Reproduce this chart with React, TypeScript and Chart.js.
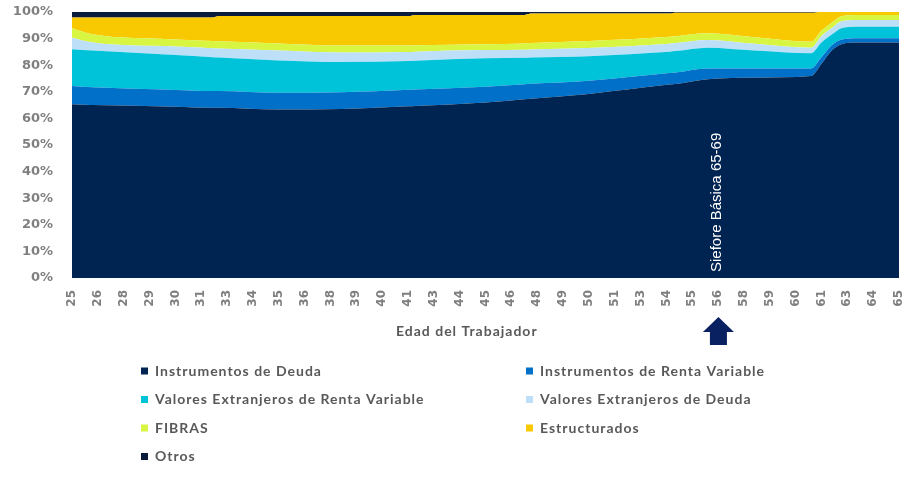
import React, { useEffect, useRef } from "react";
import { Chart, registerables } from "chart.js";
Chart.register(...registerables);

// Edad del trabajador (años)
const ages = [25, 26, 30, 31.8, 32.1, 35, 38, 41.3, 41.6, 45, 46.9, 47.2, 50, 53.9, 54.2, 55.75, 58, 60.75, 61.25, 61.75, 62.25, 63, 65];

// Composición (% del portafolio)
const instrumentosDeuda = [65.3, 65.0, 64.4, 64.0, 64.0, 63.3, 63.5, 64.6, 64.7, 66.0, 67.2, 67.4, 69.2, 72.7, 72.9, 74.7, 75.3, 75.9, 80.5, 85.5, 88.0, 88.5, 88.5];
const instrumentosRentaVariable = [6.9, 6.7, 6.3, 6.3, 6.3, 6.3, 6.3, 6.2, 6.2, 5.9, 5.6, 5.6, 5.0, 4.4, 4.4, 4.1, 3.5, 2.9, 2.5, 2.0, 1.7, 1.6, 1.6];
const extranjerosRentaVariable = [13.8, 13.8, 13.1, 12.7, 12.6, 12.2, 11.4, 10.8, 10.8, 10.7, 10.0, 9.9, 9.2, 8.0, 8.0, 7.8, 6.7, 5.7, 5.5, 4.0, 4.3, 4.4, 4.4];
const extranjerosDeuda = [4.3, 3.0, 3.2, 3.4, 3.4, 3.7, 3.6, 3.4, 3.4, 3.1, 3.0, 3.0, 3.1, 3.0, 3.0, 2.9, 2.6, 2.1, 2.5, 2.5, 2.6, 2.5, 2.5];
const fibras = [3.6, 3.1, 2.7, 2.7, 2.7, 2.7, 2.6, 2.4, 2.4, 2.2, 2.4, 2.4, 2.6, 2.6, 2.6, 2.5, 2.4, 2.2, 2.0, 2.0, 1.9, 1.9, 1.9];
const estructurados = [4.0, 6.3, 8.2, 8.8, 9.5, 10.3, 11.1, 11.1, 11.4, 11.0, 10.7, 11.1, 10.3, 8.7, 8.8, 7.7, 9.2, 10.9, 7.0, 4.0, 1.5, 1.1, 1.1];
const otros = [2.1, 2.1, 2.1, 2.1, 1.5, 1.5, 1.5, 1.5, 1.1, 1.1, 1.1, 0.6, 0.6, 0.6, 0.3, 0.3, 0.3, 0.3, 0, 0, 0, 0, 0];

const seriesLabels = [
  "Instrumentos de Deuda",
  "Instrumentos de Renta Variable",
  "Valores Extranjeros de Renta Variable",
  "Valores Extranjeros de Deuda",
  "FIBRAS",
  "Estructurados",
  "Otros",
];
const seriesValues = [
  instrumentosDeuda,
  instrumentosRentaVariable,
  extranjerosRentaVariable,
  extranjerosDeuda,
  fibras,
  estructurados,
  otros,
];
const seriesColors = ["#002451", "#0070C9", "#00C3D9", "#BDE0F8", "#D8F542", "#F8C800", "#0B1B3B"];

const xAxisTitle = "Edad del Trabajador";
const markerAge = 56;
const markerLabel = "Siefore Básica 65-69";

const overlay = {
  id: "overlay",
  afterDraw(chart: any) {
    const ctx = chart.ctx;
    const xs = chart.scales.x;
    const area = chart.chartArea;
    const px = xs.getPixelForValue(markerAge);

    // rotated label inside the chart
    ctx.save();
    ctx.translate(px + 4, area.bottom - 6);
    ctx.rotate(-Math.PI / 2);
    ctx.font = '15px "Liberation Sans"';
    ctx.fillStyle = "#ffffff";
    ctx.textAlign = "left";
    ctx.textBaseline = "middle";
    ctx.fillText(markerLabel, 0, 0);
    ctx.restore();

    // arrow
    const ax = px + 5.5;
    ctx.save();
    ctx.fillStyle = "#0A2161";
    ctx.beginPath();
    ctx.moveTo(ax, 317);
    ctx.lineTo(ax + 15.5, 332);
    ctx.lineTo(ax + 8.5, 332);
    ctx.lineTo(ax + 8.5, 345);
    ctx.lineTo(ax - 8.5, 345);
    ctx.lineTo(ax - 8.5, 332);
    ctx.lineTo(ax - 15.5, 332);
    ctx.closePath();
    ctx.fill();
    ctx.restore();

    // axis title
    ctx.save();
    ctx.font = 'bold 14px "Lato"';
    (ctx as any).letterSpacing = "1px";
    ctx.fillStyle = "#595959";
    ctx.textAlign = "left";
    ctx.textBaseline = "middle";
    ctx.fillText(xAxisTitle, 396, 331);
    ctx.restore();

    // legend, two columns
    ctx.save();
    ctx.font = 'bold 14px "Lato"';
    (ctx as any).letterSpacing = "1px";
    ctx.textAlign = "left";
    ctx.textBaseline = "middle";
    chart.data.datasets.forEach((ds: any, i: number) => {
      const col = i % 2;
      const row = Math.floor(i / 2);
      const x = col === 0 ? 141 : 526;
      const y = 371 + row * 28.5;
      ctx.fillStyle = ds.backgroundColor;
      ctx.fillRect(x, y - 3.5, 7, 7);
      ctx.fillStyle = "#595959";
      ctx.fillText(ds.label, x + 14, y);
    });
    ctx.restore();
  },
};

export default function App() {
  const ref = useRef<HTMLCanvasElement>(null);
  useEffect(() => {
    if (!ref.current) return;
    const chart = new Chart(ref.current, {
      type: "line",
      data: {
        datasets: seriesLabels.map((label, i) => ({
          label,
          data: ages.map((a, j) => ({ x: a, y: seriesValues[i][j] })),
          backgroundColor: seriesColors[i],
          borderColor: seriesColors[i],
          borderWidth: 0,
          pointRadius: 0,
          fill: i === 0 ? "origin" : "-1",
          cubicInterpolationMode: "monotone",
        })),
      },
      options: {
        responsive: false,
        animation: false,
        layout: { padding: { top: 12, right: 16, left: 0, bottom: 0 } },
        plugins: { legend: { display: false }, tooltip: { enabled: false } },
        scales: {
          x: {
            type: "linear",
            min: 25,
            max: 65,
            grid: { display: false, drawTicks: true, tickLength: 12 },
            border: { display: false },
            afterFit: (s: any) => {
              s.height = 199;
            },
            ticks: {
              stepSize: 1.25,
              autoSkip: false,
              minRotation: 90,
              maxRotation: 90,
              padding: 0,
              color: "#7F7F7F",
              font: { family: '"DejaVu Sans"', weight: "bold", size: 12 },
              callback: (v: any) => String(Math.round(Number(v))),
            },
          },
          y: {
            stacked: true,
            min: 0,
            max: 100,
            grid: { display: false, drawTicks: true, tickLength: 19 },
            border: { display: false },
            afterFit: (s: any) => {
              s.width = 72;
            },
            ticks: {
              stepSize: 10,
              padding: 0,
              color: "#7F7F7F",
              font: { family: '"DejaVu Sans"', weight: "bold", size: 13 },
              callback: (v: any) => v + "%",
            },
          },
        },
      },
      plugins: [overlay],
    });
    return () => chart.destroy();
  }, []);
  return (
    <div style={{ position: "fixed", left: 0, top: 0, width: 915, height: 477, background: "#fff" }}>
      <canvas ref={ref} width={915} height={477} style={{ display: "block" }} />
    </div>
  );
}
